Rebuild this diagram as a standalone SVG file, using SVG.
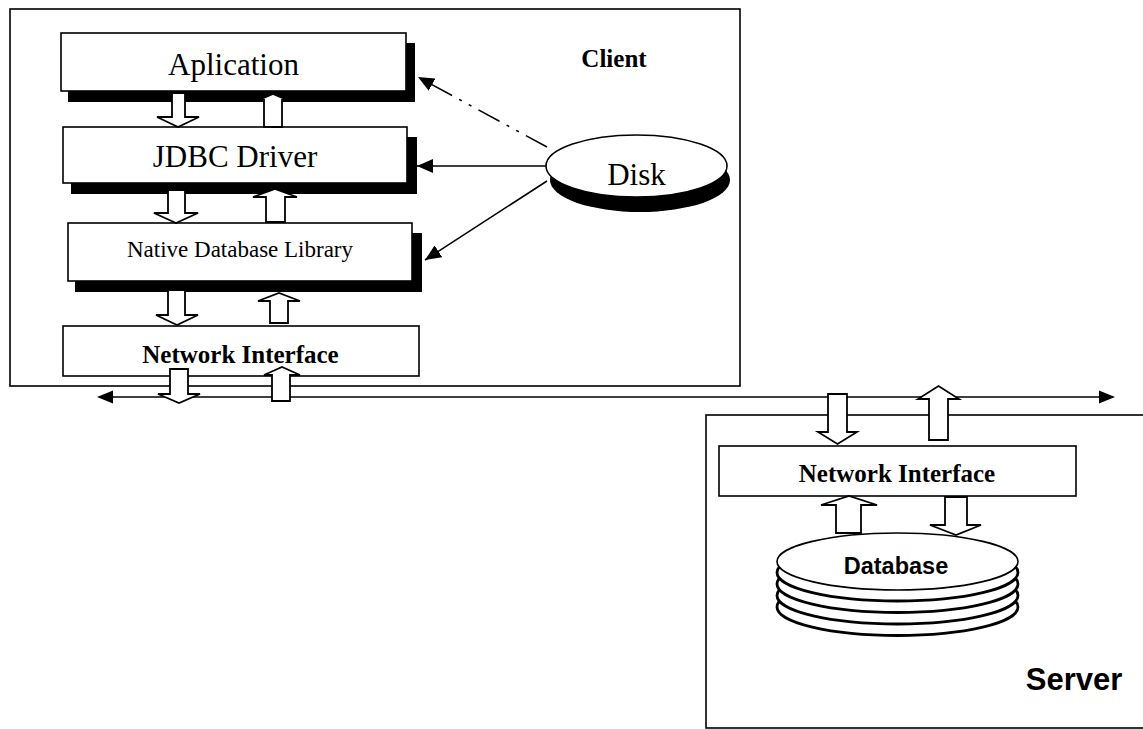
<svg xmlns="http://www.w3.org/2000/svg" width="1143" height="729" viewBox="0 0 1143 729">
<defs>
<style>
.frame{fill:none;stroke:#000;stroke-width:1.6}
.box{fill:#fff;stroke:#000;stroke-width:1.6}
.shadow{fill:#000}
.hol{fill:#fff;stroke:#000;stroke-width:1.8;stroke-linejoin:miter}
.conn{fill:none;stroke:#000;stroke-width:1.5}
.serif{font-family:"Liberation Serif","Times New Roman",serif;fill:#000}
.sans{font-family:"Liberation Sans",Arial,sans-serif;fill:#000;font-weight:bold}
.ring{fill:#fff;stroke:#000;stroke-width:2.8}
</style>
<marker id="ah" markerUnits="userSpaceOnUse" markerWidth="18" markerHeight="14" refX="16" refY="7" orient="auto">
<path d="M0,0 L16,7 L0,14 Z" fill="#000"/>
</marker>
</defs>
<rect width="1143" height="729" fill="#fff"/>

<g id="client-frame">
<rect class="frame" x="10" y="9" width="730" height="377"/>
<text class="serif" x="614" y="67" font-size="25" font-weight="bold" text-anchor="middle">Client</text>
</g>
<g id="server-frame">
<rect class="frame" x="706" y="415" width="460" height="313"/>
<text class="sans" x="1074" y="690" font-size="31" text-anchor="middle">Server</text>
</g>

<g id="connectors">
<line class="conn" x1="113" y1="397" x2="1099" y2="397"/>
<path d="M97,397 L113,390.5 L113,403.5 Z" fill="#000"/>
<path d="M1115,397 L1099,390.5 L1099,403.5 Z" fill="#000"/>
<line class="conn" x1="547" y1="147" x2="418" y2="77" stroke-width="2" stroke-dasharray="24,8,3,8,3,8" marker-end="url(#ah)"/>
<line class="conn" x1="546" y1="166" x2="417" y2="166" marker-end="url(#ah)"/>
<line class="conn" x1="547" y1="181" x2="425" y2="260" marker-end="url(#ah)"/>
</g>

<g id="aplication">
<rect class="shadow" x="68" y="43" width="347" height="59"/>
<rect class="box" x="61" y="33" width="345" height="58"/>
<text class="serif" x="233.5" y="75" font-size="31" text-anchor="middle">Aplication</text>
</g>
<g id="jdbc-driver">
<rect class="shadow" x="71" y="137" width="346" height="57"/>
<rect class="box" x="63" y="127" width="344" height="56"/>
<text class="serif" x="235" y="167" font-size="31" text-anchor="middle">JDBC Driver</text>
</g>
<g id="native-library">
<rect class="shadow" x="75" y="233" width="347" height="59"/>
<rect class="box" x="68" y="223" width="344" height="58"/>
<text class="serif" x="240" y="257" font-size="23" text-anchor="middle">Native Database Library</text>
</g>
<g id="client-network-interface">
<rect class="box" x="63" y="326" width="356" height="50"/>
<text class="serif" x="240.5" y="363" font-size="25" font-weight="bold" text-anchor="middle">Network Interface</text>
</g>

<g id="disk">
<ellipse class="shadow" cx="640" cy="180" rx="90" ry="32"/>
<ellipse class="box" cx="636.5" cy="166" rx="90.5" ry="31"/>
<text class="serif" x="636.5" y="185" font-size="31" text-anchor="middle">Disk</text>
</g>

<g id="server-network-interface">
<rect class="box" x="719" y="446" width="357" height="50"/>
<text class="serif" x="897" y="482" font-size="25" font-weight="bold" text-anchor="middle">Network Interface</text>
</g>

<g id="database">
<ellipse class="ring" cx="897.5" cy="607" rx="120.5" ry="28.5"/>
<ellipse class="ring" cx="897.5" cy="595.5" rx="120.5" ry="28.5"/>
<ellipse class="ring" cx="897.5" cy="584" rx="120.5" ry="28.5"/>
<ellipse class="ring" cx="897.5" cy="572.5" rx="120.5" ry="28.5"/>
<ellipse class="box" cx="897.5" cy="561.5" rx="120.5" ry="28.5" stroke-width="2"/>
<text class="sans" x="896" y="574" font-size="23.5" text-anchor="middle">Database</text>
</g>

<g id="flow-arrows">
<polygon class="hol" points="172,93 185,93 185,117 199,117 178,127 157,117 172,117"/>
<polygon class="hol" points="264,127 282,127 282,100 287,100 273,94 259,100 264,100"/>
<polygon class="hol" points="168,190 185,190 185,213 198,213 176,223 154,213 168,213"/>
<polygon class="hol" points="266,222 285,222 285,197 297,197 275,189 253,197 266,197"/>
<polygon class="hol" points="168,290 185,290 185,315 198,315 177,325 156,315 168,315"/>
<polygon class="hol" points="270,323 288,323 288,301 300,301 279,293 258,301 270,301"/>
<polygon class="hol" points="170,369 188,369 188,394 200,394 179,403 158,394 170,394"/>
<polygon class="hol" points="272,401 290,401 290,375 300,375 282,367 264,375 272,375"/>
<polygon class="hol" points="828,394 847,394 847,432 857,432 837.5,444 818,432 828,432"/>
<polygon class="hol" points="929,440 948,440 948,399 959,399 938.5,386 918,399 929,399"/>
<polygon class="hol" points="836,533 861,533 861,505 877,505 849,496 821,505 836,505"/>
<polygon class="hol" points="945,497 967,497 967,525 981,525 956,535 930,525 945,525"/>
</g>
</svg>
